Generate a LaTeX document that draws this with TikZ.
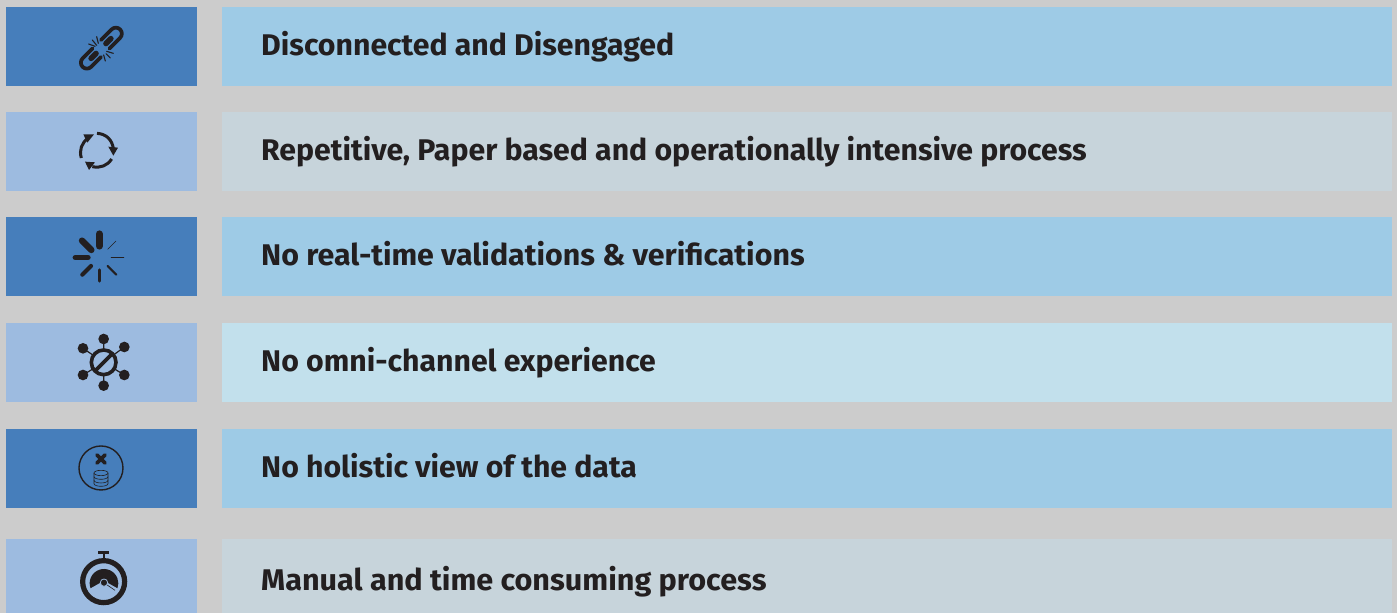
\documentclass[tikz,border=0pt]{standalone}
\usepackage{fontspec}
\setmainfont{Fira Sans}[FakeStretch=1.012]
\definecolor{pagebg}{HTML}{CCCCCC}
\definecolor{iconA}{HTML}{467EBB}
\definecolor{iconB}{HTML}{9DBBE0}
\definecolor{barA}{HTML}{9ECBE6}
\definecolor{barB}{HTML}{C7D4DB}
\definecolor{barC}{HTML}{C2E0EC}
\definecolor{ink}{HTML}{231F20}
\tikzset{
  box/.style={fill=#1,draw=none},
  lbl/.style={anchor=base west,inner sep=0pt,text=ink,font=\fontsize{30}{32}\selectfont\bfseries},
  ic/.style={draw=ink,line cap=round,line join=round},
  zoomed/.style={x=0.33333bp,y=-0.33333bp,shift={(0,#1)}}
}
\begin{document}
\begin{tikzpicture}[x=1bp,y=-1bp]
\useasboundingbox[fill=pagebg] (0,0) rectangle (1397,613);
% boxes
\fill[box=iconA] (6,7) rectangle (197,86);
\fill[box=barA] (222,7) rectangle (1392,86);
\fill[box=iconB] (6,112) rectangle (197,191);
\fill[box=barB] (222,112) rectangle (1392,191);
\fill[box=iconA] (6,217) rectangle (197,296);
\fill[box=barA] (222,217) rectangle (1392,296);
\fill[box=iconB] (6,323) rectangle (197,402);
\fill[box=barC] (222,323) rectangle (1392,402);
\fill[box=iconA] (6,429) rectangle (197,508);
\fill[box=barA] (222,429) rectangle (1392,508);
\fill[box=iconB] (6,539) rectangle (197,613);
\fill[box=barB] (222,539) rectangle (1392,613);
% labels
\node[lbl] (t1) at (261,55.5) {Disconnected and Disengaged};
\node[lbl] (t2) at (261,160.5) {Repetitive, Paper based and operationally intensive process};
\node[lbl] (t3) at (261,265) {\scalebox{1.004}[1]{No real-time validations \& verifications}};
\node[lbl] (t4) at (261,371) {No omni-channel experience};
\node[lbl] (t5) at (261,477) {No holistic view of the data};
\node[lbl] (t6) at (261,590) {\scalebox{1.012}[1]{Manual and time consuming process}};
% broken link icon
\begin{scope}[shift={(101,48.5)},rotate=45]
  \draw[ic,line width=3.7bp] (6,-6) -- (21,-6) arc[start angle=-90,end angle=90,radius=6] -- (6,6);
  \draw[ic,line width=5.5bp] (7,0) -- (14,0);
  \draw[ic,line width=3.7bp] (-6,-6) -- (-20,-6) arc[start angle=270,end angle=90,radius=6] -- (-6,6);
  \draw[ic,line width=5.5bp] (-7,0) -- (-14,0);
\end{scope}
\begin{scope}[zoomed=0]
  \draw[ic,line width=1.1bp] (290,110)--(295,130) (277,120)--(290,136) (266,132)--(285,139);
  \draw[ic,line width=1.1bp] (320,154)--(340,160) (318,161)--(331,174) (311,165)--(316,183);
\end{scope}
% cycle icon
\begin{scope}[zoomed=0]
  \draw[draw=ink,line width=3bp] (291,400) .. controls (320,402) and (336,420) .. (340,445);
  \fill[ink] (325,440)--(354,443)--(340,467)--cycle;
  \draw[draw=ink,line width=3bp] (335,477) .. controls (322,497) and (302,505) .. (277,500);
  \fill[ink] (255,485)--(285,487)--(267,510)--cycle;
  \draw[draw=ink,line width=3bp] (244,474) .. controls (237,450) and (245,430) .. (263,415);
  \fill[ink] (250,403)--(282,403)--(262,428)--cycle;
\end{scope}
% spinner icon
\begin{scope}[zoomed=630]
  \draw[ic,line width=7.2bp] (298,72)--(298,108);
  \draw[ic,line width=6.4bp] (246,92)--(274,120);
  \draw[ic,line width=5.4bp] (226,143)--(264,143);
  \draw[ic,line width=4.2bp] (247,194)--(273,168);
  \draw[ic,line width=3.4bp] (298,180)--(298,213);
  \draw[ic,line width=2.2bp] (323,168)--(349,194);
  \draw[ic,line width=1.3bp] (334,143)--(371,143);
  \draw[ic,line width=0.5bp] (323,118)--(348,93);
\end{scope}
% blocked network icon
\begin{scope}[zoomed=630]
  \draw[draw=ink,line width=1.2bp] (311,457)--(311,387) (311,457)--(311,527)
     (311,457)--(373,411) (311,457)--(373,495) (311,457)--(249,495) (311,457)--(249,415);
  \fill[iconB] (311,457) circle[radius=36];
  \draw[draw=ink,line width=3.6bp] (311,457) circle[radius=37];
  \draw[draw=ink,line width=3.6bp] (285,483)--(337,431);
  \foreach \px/\py in {311/387,373/411,373/495,311/527,249/495,249/415}
    \fill[ink] (\px,\py) circle[radius=16];
\end{scope}
% data icon
\begin{scope}[zoomed=1260]
  \draw[draw=ink,line width=1.4bp] (303,144) circle[radius=66];
  \draw[ic,line width=3.6bp] (291,105)--(315,129) (315,105)--(291,129);
  \draw[draw=ink,line width=0.6bp] (282,159) -- (282,191) arc[start angle=180,end angle=0,x radius=21,y radius=8] -- (324,159);
  \draw[draw=ink,line width=0.6bp] (303,159) ellipse[x radius=21,y radius=8];
  \draw[draw=ink,line width=0.6bp] (282,170) arc[start angle=180,end angle=0,x radius=21,y radius=8];
  \draw[draw=ink,line width=0.6bp] (282,181) arc[start angle=180,end angle=0,x radius=21,y radius=8];
\end{scope}
% stopwatch icon
\begin{scope}[zoomed=1260]
  \draw[draw=ink,line width=5.2bp] (311,485) circle[radius=63];
  \draw[draw=ink,line width=2.2bp] (311,397)--(311,418);
  \draw[draw=ink,line width=3bp] (295,398)--(327,398);
  \fill[ink] (271.6,504.7) arc[start angle=160,end angle=380,radius=43] -- (312,482) -- cycle;
  \draw[draw=iconB,line width=1.8bp] (314,490)--(347,513);
  \draw[draw=ink,line width=0.6bp] (314,490)--(345,511);
  \fill[ink] (312,488) circle[radius=11];
  \draw[draw=iconB,line width=0.8bp] (312,488) circle[radius=11];
\end{scope}
\end{tikzpicture}
\end{document}
